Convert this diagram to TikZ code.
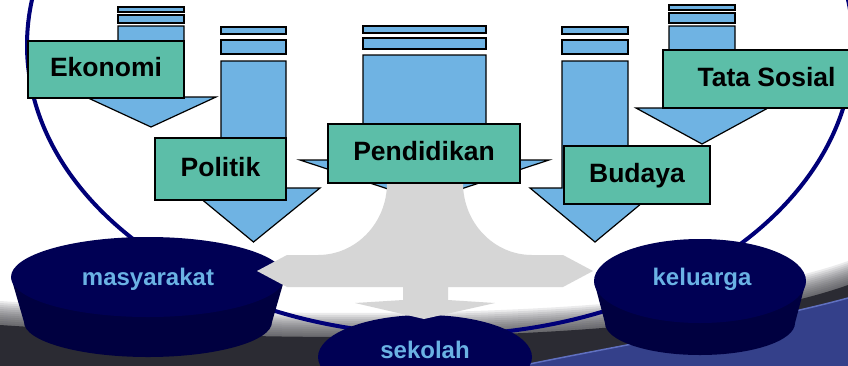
\documentclass[tikz,border=0pt]{standalone}
\usepackage{fontspec}
\setmainfont{Liberation Sans}
\usetikzlibrary{shapes.geometric}
\definecolor{arrowblue}{HTML}{6FB3E3}
\definecolor{boxteal}{HTML}{5CBEA8}
\definecolor{navyline}{HTML}{000078}
\definecolor{disktop}{HTML}{000054}
\definecolor{diskside}{HTML}{000040}
\definecolor{disktxt}{HTML}{6AB2E4}
\definecolor{graya}{HTML}{D6D6D6}
\definecolor{darkbg}{HTML}{2B2B33}
\definecolor{bluebg}{HTML}{34408A}
\definecolor{blueedge}{HTML}{6070C0}
\begin{document}
\begin{tikzpicture}[x=1pt,y=-1pt,
  arrowst/.style={fill=arrowblue, draw=black, line width=1.2pt, line join=miter},
  labelbox/.style={draw=black, fill=boxteal, line width=2pt, inner sep=0pt,
    text height=19pt, text depth=5pt,
    font=\fontsize{26.5}{30}\selectfont\bfseries, text=black},
  disktext/.style={inner sep=0pt, anchor=base, font=\fontsize{24}{28}\selectfont\bfseries, text=disktxt}]

\useasboundingbox (0,0) rectangle (848,365);
\fill[white] (0,0) rectangle (848,365);

% background horizon
\def\horizon{(0,325) .. controls (300,345) and (680,345) .. (848,285) -- (848,385) -- (0,385) -- cycle}
\foreach \s in {2,4,...,24} { \fill[darkbg, opacity=0.09, yshift=\s pt] \horizon; }
\fill[darkbg] \horizon;
\fill[bluebg] (848,298) .. controls (760,322) and (620,345) .. (500,370) -- (848,370) -- cycle;
\draw[blueedge, line width=1.5pt] (848,298) .. controls (760,322) and (620,345) .. (500,370);

% big ring
\draw[navyline, line width=4pt] (440,45) ellipse [x radius=413pt, y radius=290pt];

% disks
\fill[diskside] (148,322) ellipse [x radius=124pt, y radius=35pt];
\fill[diskside] (11,277) -- (285,277) -- (272,322) -- (24,322) -- cycle;
\fill[disktop] (148,277) ellipse [x radius=137pt, y radius=40pt];
\node[disktext] (mas) at (148,285) {masyarakat};

\fill[diskside] (700,323) ellipse [x radius=95pt, y radius=32pt];
\fill[diskside] (594,281) -- (806,281) -- (795,323) -- (605,323) -- cycle;
\fill[disktop] (700,281) ellipse [x radius=106pt, y radius=42pt];
\node[disktext] (kel) at (702,285) {keluarga};

\fill[disktop] (425,357) ellipse [x radius=107pt, y radius=42pt];
\node[disktext] (sek) at (425,358) {sekolah};

% blue arrows
\foreach \xl/\xr/\sa/\sb/\sc/\sd/\st/\hy/\hl/\hr/\ty in
  {118/184/7/12/15/23/26/97/86/216/127,
   221/286/27/34/40/54/61/188/188/320/242,
   363/486/26/33/38/49/55/160/300/549/201,
   562/628/27/34/40/54/61/188/530/660/242,
   669/735/5/10/13/23/26/108/636/768/144}
{
  \draw[arrowst] (\xl,\sa) rectangle (\xr,\sb);
  \draw[arrowst] (\xl,\sc) rectangle (\xr,\sd);
  \draw[arrowst] (\xl,\st) -- (\xl,\hy) -- (\hl,\hy) -- ({(\xl+\xr)/2},\ty) -- (\hr,\hy) -- (\xr,\hy) -- (\xr,\st) -- cycle;
}

% grey three-way arrow
\fill[graya] (387,183) .. controls (387,223) and (356,255) .. (318,255) -- (287,255) -- (257,271) -- (287,287)
  -- (403,287) -- (403,300) -- (355,303) -- (424,319) -- (495,303) -- (448,300) -- (448,287)
  -- (563,287) -- (593,271) -- (563,255) -- (532,255) .. controls (494,255) and (463,223) .. (463,183) -- cycle;

% label boxes
\node[labelbox, minimum width=156pt, minimum height=57pt] (eko) at (106,69.5) {Ekonomi};
\node[labelbox, minimum width=131pt, minimum height=62pt] (pol) at (220.5,169) {Politik};
\node[labelbox, minimum width=192pt, minimum height=59pt] (pen) at (424,153.5) {Pendidikan};
\node[labelbox, minimum width=146pt, minimum height=58pt] (bud) at (637,175) {Budaya};
\node[labelbox, minimum width=207pt, minimum height=58pt] (tat) at (766.5,79) {Tata Sosial};
\end{tikzpicture}
\end{document}
